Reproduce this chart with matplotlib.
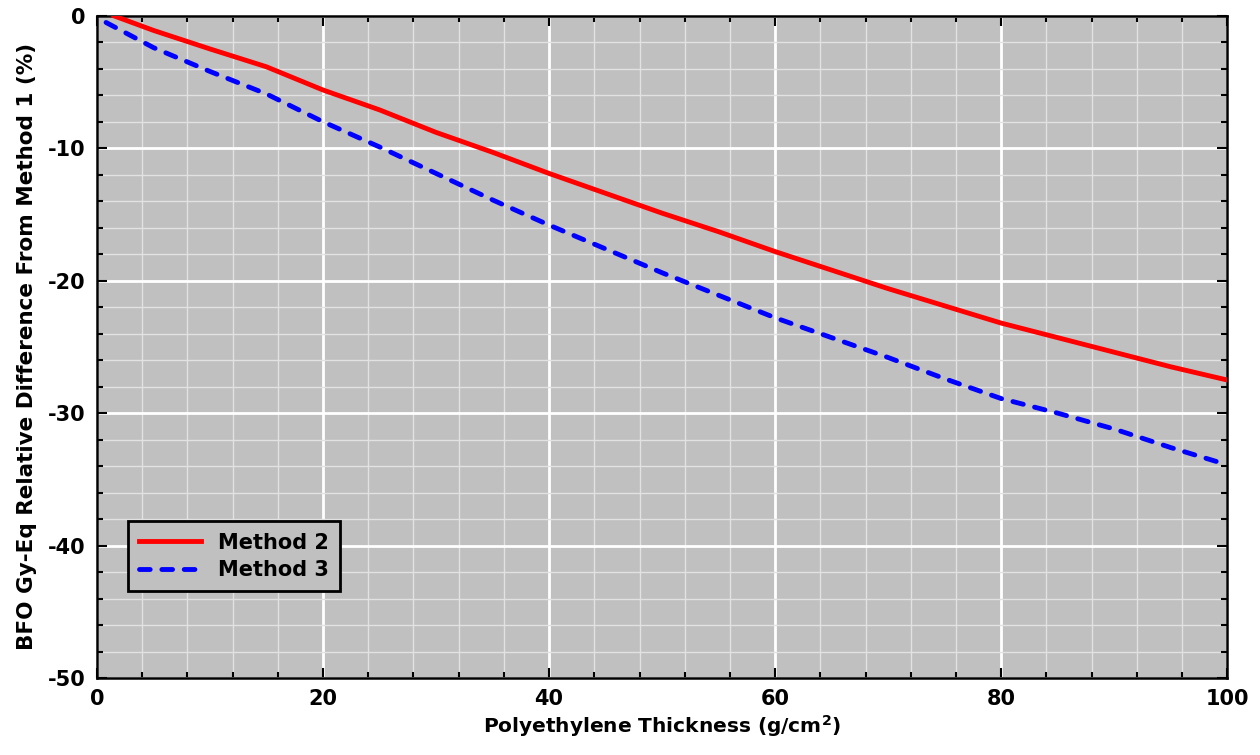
import matplotlib
matplotlib.use("Agg")
import matplotlib.pyplot as plt
from matplotlib.ticker import MultipleLocator

# BFO Gy-Eq relative difference from Method 1 (%)
x_m2 = [1.5, 5, 10, 15, 20, 25, 30, 35, 40, 45, 50, 55, 60, 65, 70, 75, 80, 85, 90, 95, 100]
y_m2 = [0.0, -1.1, -2.5, -3.85, -5.6, -7.1, -8.8, -10.3, -11.9, -13.4, -14.9, -16.3,
        -17.8, -19.2, -20.6, -21.9, -23.2, -24.3, -25.4, -26.5, -27.5]

x_m3 = [0.8, 5, 10, 15, 20, 25, 30, 35, 40, 45, 50, 55, 60, 65, 70, 75, 80, 85, 90, 95, 100]
y_m3 = [-0.5, -2.4, -4.2, -5.9, -8.0, -9.9, -11.9, -13.9, -15.8, -17.6, -19.4, -21.1,
        -22.8, -24.3, -25.8, -27.4, -28.9, -30.0, -31.2, -32.6, -33.9]

BG = '#C0C0C0'

plt.rcParams['font.family'] = ['DejaVu Sans']
plt.rcParams['font.weight'] = 'bold'
plt.rcParams['axes.unicode_minus'] = False
plt.rcParams['mathtext.default'] = 'bf'

fig = plt.figure(figsize=(12.6, 7.55), dpi=100)
ax = fig.add_axes([0.077, 0.102, 0.897, 0.877])
ax.set_facecolor(BG)

ax.plot(x_m2, y_m2, color='red', lw=3.5, label='Method 2', zorder=3)
ax.plot(x_m3, y_m3, color='blue', lw=3.5, dashes=(2.2, 2.4), dash_capstyle='round',
        label='Method 3', zorder=3)

ax.set_xlim(0, 100)
ax.set_ylim(-50, 0)
ax.xaxis.set_major_locator(MultipleLocator(20))
ax.xaxis.set_minor_locator(MultipleLocator(4))
ax.yaxis.set_major_locator(MultipleLocator(10))
ax.yaxis.set_minor_locator(MultipleLocator(2))

ax.grid(which='major', color='white', lw=2, zorder=0)
ax.grid(which='minor', color='#E2E2E2', lw=1, zorder=0)
ax.set_axisbelow(True)

for s in ax.spines.values():
    s.set_linewidth(1.8)
ax.tick_params(which='both', direction='in', top=True, right=True, width=1.5)
ax.tick_params(which='major', length=7, labelsize=15, pad=8)
ax.tick_params(which='minor', length=4)

ax.set_xlabel('Polyethylene Thickness (g/cm$^2$)', fontsize=14.5, fontweight='bold', labelpad=3)
ax.set_ylabel('BFO Gy-Eq Relative Difference From Method 1 (%)', fontsize=15.5,
              fontweight='bold', labelpad=8)

leg = ax.legend(loc='lower left', bbox_to_anchor=(0.027, 0.131), borderaxespad=0,
                fontsize=15, fancybox=False, framealpha=1, facecolor=BG,
                edgecolor='black', handlelength=3.0, handletextpad=0.8,
                borderpad=0.55, labelspacing=0.35)
leg.get_frame().set_linewidth(2)

fig.savefig('out.png', dpi=100)
